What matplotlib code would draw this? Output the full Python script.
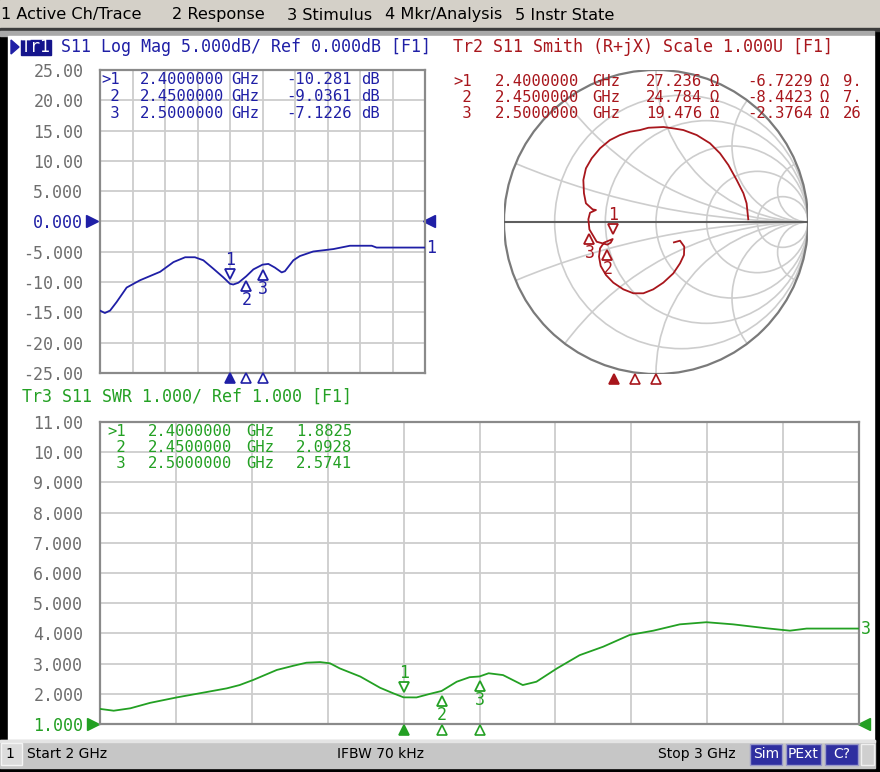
"""VNA screen: S11 log mag, Smith chart and SWR with three markers."""

import matplotlib

matplotlib.use("Agg")
import matplotlib.pyplot as plt
import numpy as np
from matplotlib import transforms
from matplotlib.patches import Circle, Polygon, Rectangle

# ---- data ---------------------------------------------------------------
freq_start, freq_stop = 2.0, 3.0  # GHz

logmag_freq = [2.000, 2.015, 2.031, 2.051, 2.082, 2.123, 2.185, 2.226, 2.262,
               2.292, 2.318, 2.349, 2.379, 2.400, 2.410, 2.426, 2.450, 2.472,
               2.500, 2.518, 2.538, 2.559, 2.569, 2.595, 2.615, 2.656, 2.718,
               2.769, 2.836, 2.851, 3.000]
logmag_db = [-14.7, -15.1, -14.7, -13.3, -10.9, -9.7, -8.3, -6.7, -5.9,
             -5.9, -6.4, -7.8, -9.2, -10.281, -10.4, -10.1, -9.036, -7.9,
             -7.123, -7.0, -7.6, -8.4, -8.2, -6.4, -5.7, -4.95, -4.55,
             -4.0, -4.0, -4.3, -4.3]

swr_freq = [2.000, 2.018, 2.040, 2.066, 2.101, 2.132, 2.167, 2.184, 2.202,
            2.233, 2.255, 2.272, 2.290, 2.303, 2.316, 2.343, 2.369, 2.386,
            2.400, 2.417, 2.435, 2.450, 2.470, 2.487, 2.500, 2.512, 2.531,
            2.557, 2.575, 2.602, 2.632, 2.663, 2.698, 2.729, 2.764, 2.799,
            2.834, 2.878, 2.909, 2.931, 3.000]
swr_val = [1.50, 1.44, 1.52, 1.70, 1.88, 2.02, 2.18, 2.29, 2.46,
           2.79, 2.93, 3.03, 3.05, 3.01, 2.84, 2.57, 2.20, 2.02,
           1.8825, 1.88, 2.00, 2.0928, 2.40, 2.55, 2.5741, 2.68, 2.62,
           2.29, 2.40, 2.84, 3.28, 3.56, 3.95, 4.09, 4.30, 4.37,
           4.30, 4.17, 4.09, 4.16, 4.16]

# reflection coefficient, 2 GHz -> 3 GHz
smith_re = [0.118, 0.158, 0.186, 0.184, 0.158, 0.114, 0.048, -0.018, -0.083,
            -0.149, -0.215, -0.281, -0.329, -0.364, -0.375, -0.368, -0.342,
            -0.285, -0.298, -0.320, -0.390, -0.438, -0.445, -0.434, -0.395,
            -0.417, -0.461, -0.474, -0.478, -0.461, -0.423, -0.368, -0.303,
            -0.237, -0.171, -0.105, -0.050, 0.050, 0.120, 0.180, 0.268, 0.355,
            0.421, 0.476, 0.531, 0.575, 0.596, 0.607]
smith_im = [-0.134, -0.123, -0.162, -0.217, -0.272, -0.338, -0.399, -0.443,
            -0.469, -0.469, -0.443, -0.399, -0.349, -0.289, -0.228, -0.173,
            -0.136, -0.112, -0.136, -0.149, -0.130, -0.049, 0.018, 0.061,
            0.079, 0.083, 0.123, 0.189, 0.276, 0.353, 0.419, 0.485, 0.539,
            0.572, 0.594, 0.605, 0.620, 0.625, 0.615, 0.605, 0.572, 0.518,
            0.452, 0.375, 0.276, 0.189, 0.123, 0.018]

marker_freq = [2.40, 2.45, 2.50]
marker_db = [-10.281, -9.0361, -7.1226]
marker_swr = [1.8825, 2.0928, 2.5741]
marker_r = [27.236, 24.784, 19.476]
marker_x = [-6.7229, -8.4423, -2.3764]
marker_extra = ["9.", "7.", "26"]
marker_names = [">1", " 2", " 3"]

logmag_ticks = [25, 20, 15, 10, 5, 0, -5, -10, -15, -20, -25]
logmag_labels = ["25.00", "20.00", "15.00", "10.00", "5.000", "0.000",
                 "-5.000", "-10.00", "-15.00", "-20.00", "-25.00"]
swr_ticks = [11, 10, 9, 8, 7, 6, 5, 4, 3, 2, 1]
swr_labels = ["11.00", "10.00", "9.000", "8.000", "7.000", "6.000",
              "5.000", "4.000", "3.000", "2.000", "1.000"]
smith_grid = [0.2, 0.5, 1.0, 2.0, 5.0]
menu_items = [("1 Active Ch/Trace", 1), ("2 Response", 172), ("3 Stimulus", 287),
              ("4 Mkr/Analysis", 385), ("5 Instr State", 515)]

# ---- styles ---------------------------------------------------------------
W, H = 880, 772
MONO = "DejaVu Sans Mono"
SANS = "DejaVu Sans"
FS = 12      # titles and tick labels
TFS = 11.2   # marker tables
BLUE = "#1f1fa6"
RED = "#a8161c"
GREEN = "#23a023"
TICK = "#6e6e6e"
GRID = "#cdcdcd"
FRAME = "#8a8a8a"
MENU_BG = "#d4d0c8"


def px_axes(fig, x0, y0, x1, y1):
    return fig.add_axes([x0 / W, 1 - y1 / H, (x1 - x0) / W, (y1 - y0) / H])


def pixel_layer(fig):
    ax = fig.add_axes([0, 0, 1, 1])
    ax.set_xlim(0, W)
    ax.set_ylim(H, 0)
    ax.axis("off")
    return ax


def style_rect_axes(ax, ticks, labels, ref_idx, color):
    ax.set_xlim(freq_start, freq_stop)
    ax.set_ylim(min(ticks), max(ticks))
    ax.set_xticks(np.linspace(freq_start, freq_stop, 11))
    ax.set_xticklabels([])
    ax.set_yticks(ticks)
    ax.set_yticklabels(labels, family=MONO, fontsize=FS)
    ax.tick_params(length=0, pad=12, labelcolor=TICK)
    ax.get_yticklabels()[ref_idx].set_color(color)
    ax.grid(color=GRID, lw=1.3)
    ax.set_axisbelow(True)
    for sp in ax.spines.values():
        sp.set_color(FRAME)
        sp.set_linewidth(1.6)


def trace_marker(ax, x, y, num, color, active):
    tri_off, txt_off, m = (10, 24, "v") if active else (-10, -24, "^")
    tr = transforms.offset_copy(ax.transData, fig=ax.figure, x=0, y=tri_off, units="dots")
    ax.plot([x], [y], marker=m, ms=7, mfc="white", mec=color, mew=1.3,
            transform=tr, clip_on=False, zorder=6)
    ax.annotate(num, (x, y), xytext=(0, txt_off), textcoords="offset pixels",
                ha="center", va="center", color=color, family=MONO, fontsize=FS,
                annotation_clip=False, zorder=6)


def stimulus_markers(ax, color, yoff):
    bx = ax.get_xaxis_transform()
    for i, f in enumerate(marker_freq):
        ax.plot([f], [yoff], marker="^", ms=7.5, mfc=color if i == 0 else "white",
                mec=color, mew=1.2, transform=bx, clip_on=False, zorder=6)


def ref_arrows(ax, yval, color, xl, xr):
    ty = ax.get_yaxis_transform()
    ax.plot([xl], [yval], marker=">", ms=8, color=color, transform=ty, clip_on=False)
    ax.plot([xr], [yval], marker="<", ms=8, color=color, transform=ty, clip_on=False)


fig = plt.figure(figsize=(W / 100, H / 100), dpi=100)
bg = pixel_layer(fig)

# window chrome
bg.add_patch(Rectangle((0, 0), W, H, color="black"))
bg.add_patch(Rectangle((0, 0), W, 28, color=MENU_BG))
bg.add_patch(Rectangle((0, 28), W, 3, color="#3c3c3c"))
bg.add_patch(Rectangle((0, 31), 874, 5, color="#a9a9a9"))
bg.add_patch(Rectangle((8, 36), 866, 704, color="white"))
bg.add_patch(Rectangle((0, 740), 875, 28, color="#c6c6c6"))
bg.add_patch(Rectangle((0, 740), 875, 2, color="#e4e4e4"))
for txt, x in menu_items:
    bg.text(x, 15, txt, family=SANS, fontsize=11.6, va="center", color="black")

# status bar
bg.add_patch(Rectangle((1, 743), 21, 22, fc="#dcdcdc", ec="#f4f4f4", lw=1))
bg.text(10, 754, "1", family=SANS, fontsize=10, va="center", ha="center")
bg.text(27, 754, "Start 2 GHz", family=SANS, fontsize=10, va="center")
bg.text(337, 754, "IFBW 70 kHz", family=SANS, fontsize=10, va="center")
bg.text(658, 754, "Stop 3 GHz", family=SANS, fontsize=10, va="center")
for label, x0, x1 in [("Sim", 750, 782), ("PExt", 786, 821), ("C?", 825, 858)]:
    bg.add_patch(Rectangle((x0, 744), x1 - x0, 21, fc="#2f2fa0", ec="#9a9aca", lw=1))
    bg.text((x0 + x1) / 2, 754.5, label, family=SANS, fontsize=10, va="center",
            ha="center", color="white")
bg.add_patch(Rectangle((861, 744), 13, 21, fc="#cfcfcf", ec="#f0f0f0", lw=1))

# titles
bg.add_patch(Polygon([(11, 40), (19, 47), (11, 54)], color=BLUE))
bg.add_patch(Rectangle((21, 40), 30, 15, color="#14148c"))
bg.text(21, 47.5, "Tr1", family=MONO, fontsize=FS, va="center", color="white")
bg.text(51, 47.5, " S11 Log Mag 5.000dB/ Ref 0.000dB [F1]", family=MONO,
        fontsize=FS, va="center", color=BLUE)
bg.text(453, 47.5, "Tr2 S11 Smith (R+jX) Scale 1.000U [F1]", family=MONO,
        fontsize=FS, va="center", color=RED)
bg.text(22, 397, "Tr3 S11 SWR 1.000/ Ref 1.000 [F1]", family=MONO,
        fontsize=FS, va="center", color=GREEN)

# ---- trace 1: log magnitude ----------------------------------------------
ax1 = px_axes(fig, 100, 70, 425, 373)
style_rect_axes(ax1, logmag_ticks, logmag_labels, logmag_ticks.index(0), BLUE)
ax1.plot(logmag_freq, logmag_db, color=BLUE, lw=1.3, zorder=4)
ax1.text(1.004, logmag_db[-1], "1", transform=ax1.get_yaxis_transform(),
         family=MONO, fontsize=FS, color=BLUE, va="center")
for i, (f, v) in enumerate(zip(marker_freq, marker_db)):
    trace_marker(ax1, f, v, str(i + 1), BLUE, i == 0)
stimulus_markers(ax1, BLUE, -0.017)
ref_arrows(ax1, 0, BLUE, -0.024, 1.013)

# ---- trace 2: Smith chart --------------------------------------------------
sax = px_axes(fig, 504, 70, 808, 374)
sax.set_xlim(-1, 1)
sax.set_ylim(-1, 1)
sax.axis("off")
unit = Circle((0, 0), 1, transform=sax.transData)
for r in smith_grid:
    sax.add_patch(Circle((r / (r + 1), 0), 1 / (r + 1), fill=False, ec=GRID, lw=1.2))
    for s in (1, -1):
        arc = Circle((1, s / r), 1 / r, fill=False, ec=GRID, lw=1.2)
        sax.add_patch(arc)
        arc.set_clip_path(unit)
sax.add_patch(Circle((0, 0), 1, fill=False, ec="#7a7a7a", lw=1.6, zorder=3))
sax.plot([-1, 1], [0, 0], color="#5e5e5e", lw=1.5, zorder=3)
sax.plot(smith_re, smith_im, color=RED, lw=1.3, zorder=4)
for i in range(3):
    z = complex(marker_r[i], marker_x[i])
    g = (z - 50) / (z + 50)
    trace_marker(sax, g.real, g.imag, str(i + 1), RED, i == 0)
sfreq = px_axes(fig, 446, 70, 866, 374)
sfreq.set_xlim(freq_start, freq_stop)
sfreq.axis("off")
stimulus_markers(sfreq, RED, -0.017)

# ---- trace 3: SWR ----------------------------------------------------------
ax3 = px_axes(fig, 100, 422, 859, 724)
style_rect_axes(ax3, swr_ticks, swr_labels, swr_ticks.index(1), GREEN)
ax3.plot(swr_freq, swr_val, color=GREEN, lw=1.3, zorder=4)
ax3.text(1.002, swr_val[-1], "3", transform=ax3.get_yaxis_transform(),
         family=MONO, fontsize=FS, color=GREEN, va="center")
for i, (f, v) in enumerate(zip(marker_freq, marker_swr)):
    trace_marker(ax3, f, v, str(i + 1), GREEN, i == 0)
stimulus_markers(ax3, GREEN, -0.02)
ref_arrows(ax3, 1, GREEN, -0.009, 1.007)

# ---- marker tables (drawn on top of the grids) -----------------------------
fg = pixel_layer(fig)
for i in range(3):
    kw = dict(family=MONO, fontsize=TFS, va="center", color=BLUE)
    y = 80 + 16.5 * i
    fg.text(101, y, marker_names[i], **kw)
    fg.text(140, y, f"{marker_freq[i]:.7f}", **kw)
    fg.text(231, y, "GHz", **kw)
    fg.text(352, y, f"{marker_db[i]:.5g}", ha="right", **kw)
    fg.text(361, y, "dB", **kw)

    kw["color"] = RED
    y = 81 + 16.3 * i
    fg.text(453, y, marker_names[i], **kw)
    fg.text(495, y, f"{marker_freq[i]:.7f}", **kw)
    fg.text(592, y, "GHz", **kw)
    fg.text(702, y, f"{marker_r[i]:.3f}", ha="right", **kw)
    fg.text(709, y, "Ω", **kw)
    fg.text(813, y, f"{marker_x[i]:.4f}", ha="right", **kw)
    fg.text(819, y, "Ω", **kw)
    t = fg.text(843, y, marker_extra[i], **kw)
    t.set_clip_path(Rectangle((0, 0), 860, H, transform=fg.transData))

    kw["color"] = GREEN
    y = 431 + 16.2 * i
    fg.text(107, y, marker_names[i], **kw)
    fg.text(148, y, f"{marker_freq[i]:.7f}", **kw)
    fg.text(246, y, "GHz", **kw)
    fg.text(296, y, f"{marker_swr[i]:.4f}", **kw)

fig.savefig("out.png", dpi=100)
